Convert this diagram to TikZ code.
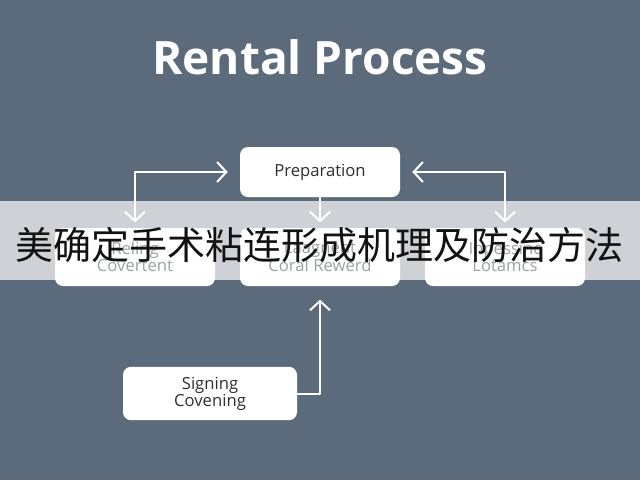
\documentclass[tikz,border=0pt]{standalone}
\usepackage{fontspec}
\setmainfont{Open Sans}
\newfontfamily\cjkfont{Noto Sans CJK SC}
\usetikzlibrary{arrows.meta}
\definecolor{bgslate}{HTML}{5B6B7C}
\definecolor{darktext}{HTML}{2E2E2E}
\definecolor{fadedtext}{HTML}{9CA1A6}
\tikzset{
  boxnode/.style={fill=white, draw=none, rounded corners=6pt, align=center, inner sep=0pt},
  lowbox/.style={boxnode, minimum width=120pt, minimum height=43.5pt, text=fadedtext, font=\fontsize{12.5}{11.5}\selectfont},
  wire/.style={draw=white, line width=1.5pt, line cap=round, line join=round},
  tipend/.style={-{Straight Barb[length=7pt,width=15pt,line width=1.5pt]}},
  tipboth/.style={{Straight Barb[length=7pt,width=15pt,line width=1.5pt]}-{Straight Barb[length=7pt,width=15pt,line width=1.5pt]}}
}
\begin{document}
\begin{tikzpicture}[x=0.75pt,y=-0.75pt]
\fill[bgslate] (0,0) rectangle (640,480);
\useasboundingbox (0,0) rectangle (640,480);

\node[text=white, font=\bfseries\fontsize{34.5}{40}\selectfont] (title) at (320,57) {Rental Process};

\node[boxnode, minimum width=120pt, minimum height=37.5pt, text=darktext, font=\fontsize{12.5}{14}\selectfont] (prep) at (320,172) {Preparation};

\fill[white, opacity=0.70] (0,201) rectangle (640,280);

\node[lowbox] (left) at (135,257) {Reling\\Covertent};
\node[lowbox] (mid) at (320,257) {Laagnent\\Coral Rewerd};
\node[lowbox] (right) at (505,257) {Inpessinc\\Lotamcs};

\node[boxnode, minimum width=130.5pt, minimum height=40pt, text=darktext, font=\fontsize{12.5}{12.75}\selectfont] (sign) at (210,393.5) {Signing\\Covening};

\draw[wire, tipboth, shorten <=4pt, shorten >=9pt] (left.north) |- (prep.west);
\draw[wire, tipboth, shorten <=4pt, shorten >=9pt] (right.north) |- (prep.east);
\draw[wire, tipend, shorten >=4pt] (prep.south) -- (mid.north);
\draw[wire, tipend, shorten >=10pt] (sign.east) -| (mid.south);

\node[text=black!93, font=\cjkfont\fontsize{28.5}{30}\selectfont] (banner) at (320,245) {美确定手术粘连形成机理及防治方法};
\end{tikzpicture}
\end{document}
